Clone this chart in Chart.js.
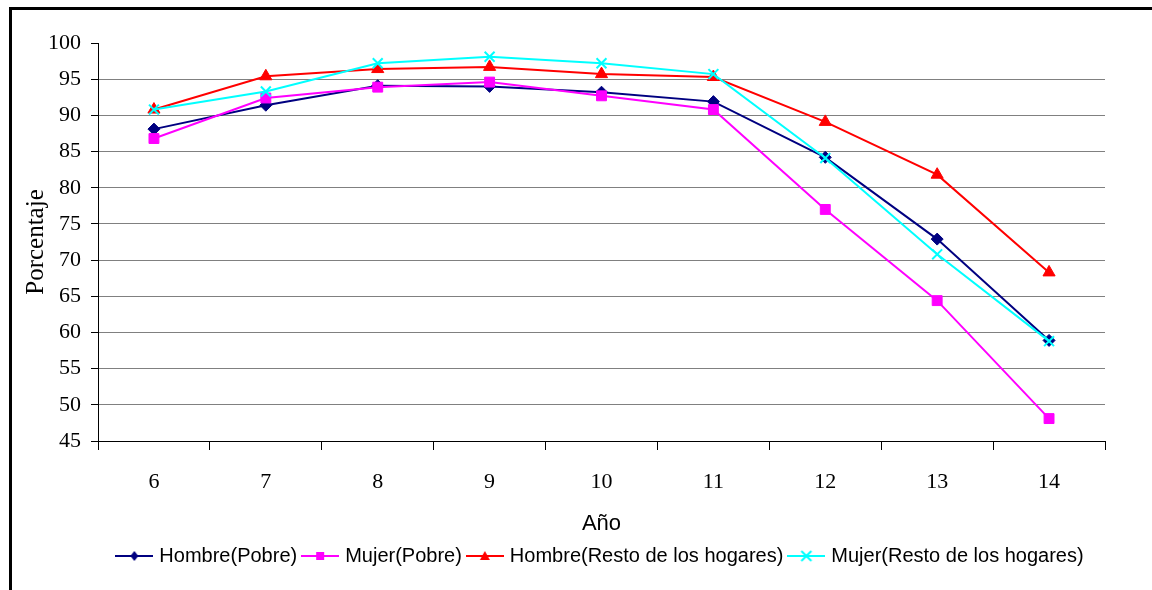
<!DOCTYPE html>
<html lang="es">
<head>
<meta charset="utf-8">
<title>Porcentaje por año</title>
<script src="https://cdn.jsdelivr.net/npm/chart.js@4/dist/chart.umd.min.js"></script>
<style>
  html, body { margin: 0; padding: 0; background: #fff; }
  #wrap { width: 1152px; height: 590px; }
</style>
</head>
<body>
<div id="wrap"><canvas id="asistencia" width="1152" height="590"></canvas></div>
<script>
// categorias y series
const anios = ['6', '7', '8', '9', '10', '11', '12', '13', '14'];
const hombrePobre = [88.1, 91.4, 94.1, 94.0, 93.2, 91.9, 84.2, 72.9, 58.9];
const mujerPobre = [86.8, 92.4, 93.9, 94.6, 92.7, 90.8, 77.0, 64.4, 48.1];
const hombreResto = [90.8, 95.4, 96.4, 96.7, 95.7, 95.3, 89.1, 81.8, 68.3];
const mujerResto = [90.8, 93.3, 97.2, 98.1, 97.2, 95.7, 84.1, 70.8, 58.8];
const yMin = 45, yMax = 100, yStep = 5;

const serif = "'Liberation Serif', 'Times New Roman', serif";
const sans = "'Liberation Sans', Arial, sans-serif";

// small legend glyph: a line with the series marker in the middle
function legendGlyph(color, shape) {
  const c = document.createElement('canvas');
  c.width = 38; c.height = 14;
  const g = c.getContext('2d');
  const cx = 19, cy = 7;
  g.strokeStyle = color; g.fillStyle = color; g.lineWidth = 2;
  g.beginPath(); g.moveTo(0, cy); g.lineTo(38, cy); g.stroke();
  g.beginPath();
  if (shape === 'rectRot') {
    g.moveTo(cx, cy - 5); g.lineTo(cx + 4, cy); g.lineTo(cx, cy + 5); g.lineTo(cx - 4, cy); g.closePath(); g.fill();
  } else if (shape === 'rect') {
    g.fillRect(cx - 4, cy - 4, 8, 8);
  } else if (shape === 'triangle') {
    g.moveTo(cx, cy - 5); g.lineTo(cx + 5, cy + 4); g.lineTo(cx - 5, cy + 4); g.closePath(); g.fill();
  } else {
    g.moveTo(cx - 5, cy - 5); g.lineTo(cx + 5, cy + 5);
    g.moveTo(cx + 5, cy - 5); g.lineTo(cx - 5, cy + 5); g.stroke();
  }
  return c;
}

function serie(label, data, color, shape, radius, order) {
  return {
    label: label,
    data: data,
    borderColor: color,
    backgroundColor: color,
    borderWidth: 2,
    pointStyle: shape,
    pointRadius: radius,
    pointHoverRadius: radius,
    pointBorderWidth: shape === 'crossRot' ? 2 : 1,
    tension: 0,
    order: order,
    glyph: legendGlyph(color, shape)
  };
}

// outer frame lines (left and top)
const marco = {
  id: 'marco',
  afterDraw(chart) {
    const ctx = chart.ctx;
    ctx.save();
    ctx.strokeStyle = '#000';
    ctx.lineWidth = 3;
    ctx.beginPath();
    ctx.moveTo(10.5, 7); ctx.lineTo(10.5, 590);
    ctx.moveTo(9, 8.5); ctx.lineTo(1152, 8.5);
    ctx.stroke();
    ctx.restore();
  }
};

const ctx = document.getElementById('asistencia').getContext('2d');
new Chart(ctx, {
  type: 'line',
  data: {
    labels: anios,
    datasets: [
      serie('Hombre(Pobre)', hombrePobre, '#000080', 'rectRot', 6, 4),
      serie('Mujer(Pobre)', mujerPobre, '#ff00ff', 'rect', 7, 3),
      serie('Hombre(Resto de los hogares)', hombreResto, '#ff0000', 'triangle', 7, 2),
      serie('Mujer(Resto de los hogares)', mujerResto, '#00ffff', 'crossRot', 7, 1)
    ]
  },
  options: {
    responsive: false,
    animation: false,
    layout: { padding: { top: 43, right: 47, left: 0, bottom: 14 } },
    plugins: {
      tooltip: { enabled: false },
      legend: {
        position: 'bottom',
        fullSize: false,
        labels: {
          usePointStyle: true,
          pointStyleWidth: 30,
          padding: 8,
          color: '#000',
          font: { family: sans, size: 20 },
          sort: (a, b) => a.datasetIndex - b.datasetIndex,
          generateLabels(chart) {
            const items = Chart.defaults.plugins.legend.labels.generateLabels(chart);
            items.forEach(it => { it.pointStyle = chart.data.datasets[it.datasetIndex].glyph; });
            return items;
          }
        }
      }
    },
    scales: {
      x: {
        offset: true,
        afterFit(scale) { scale.height = 97; },
        grid: {
          offset: true,
          drawOnChartArea: false,
          drawTicks: true,
          tickLength: 9,
          tickColor: '#000'
        },
        border: { color: '#000', width: 1 },
        ticks: { color: '#000', padding: 19, font: { family: serif, size: 22 } },
        title: {
          display: true,
          text: 'Año',
          color: '#000',
          padding: { top: 0, bottom: 1 },
          font: { family: sans, size: 22 }
        }
      },
      y: {
        min: yMin,
        max: yMax,
        afterFit(scale) { scale.width = 98; },
        grid: {
          color: c => (c.tick && c.tick.value === yMax) ? 'rgba(0,0,0,0)' : '#808080',
          lineWidth: 1,
          tickLength: 7,
          tickColor: '#000'
        },
        border: { color: '#000', width: 1 },
        ticks: {
          stepSize: yStep,
          color: '#000',
          padding: 10,
          font: { family: serif, size: 22 }
        },
        title: {
          display: true,
          text: 'Porcentaje',
          color: '#000',
          padding: { top: 21, bottom: 0 },
          font: { family: serif, size: 25 }
        }
      }
    }
  },
  plugins: [marco]
});
</script>
</body>
</html>
